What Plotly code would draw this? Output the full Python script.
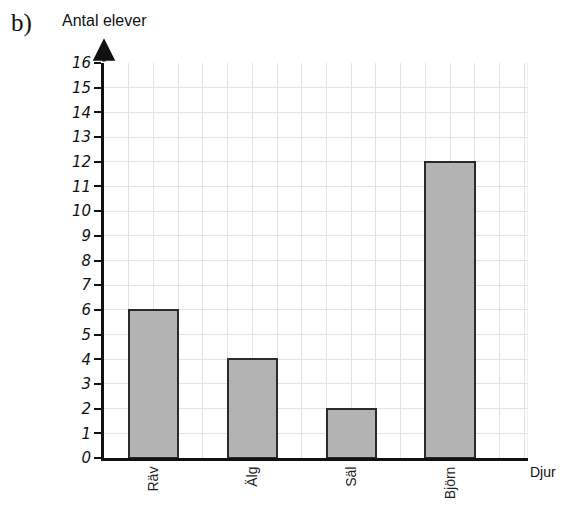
import plotly.graph_objects as go

categories = ["Räv", "Älg", "Säl", "Björn"]
values = [6, 4, 2, 12]
positions = [2, 6, 10, 14]
y_ticks = list(range(0, 17))

# page body has an 8px default margin; size figure to fit the 569x506 window
W, H = 553, 490
L, R, T, B = 96, 33, 55, 40
PW, PH = W - L - R, H - T - B


def px(xr):
    return (xr - 8 - L) / PW


def py(yr):
    return (H - B - (yr - 8)) / PH


fig = go.Figure()
fig.add_trace(go.Bar(
    x=positions, y=values, width=2,
    marker=dict(color="#b3b3b3", line=dict(color="#2a2a2a", width=2)),
    hoverinfo="skip",
))

fig.update_layout(
    width=W, height=H,
    margin=dict(l=L, r=R, t=T, b=B, autoexpand=False),
    paper_bgcolor="white", plot_bgcolor="white",
    showlegend=False,
    font=dict(family="Liberation Sans, Arial", color="#222"),
    xaxis=dict(
        range=[0, 17.15], tickvals=positions, ticktext=categories,
        tickangle=-90, tickfont=dict(size=14, color="#222"),
        showgrid=False, zeroline=False,
        showline=True, linecolor="#111", linewidth=3,
        ticks="", fixedrange=True, automargin=False,
        minor=dict(dtick=1, tick0=0, showgrid=True, gridcolor="#e2e2e2", gridwidth=1),
    ),
    yaxis=dict(
        range=[0, 16], tickvals=y_ticks, ticktext=[str(v) for v in y_ticks],
        tickfont=dict(size=15, family="DejaVu Sans", style="italic", color="#111"),
        showgrid=True, gridcolor="#e2e2e2", gridwidth=1,
        zeroline=False, showline=True, linecolor="#111", linewidth=3,
        ticks="outside", ticklen=7, tickwidth=1.5, tickcolor="#111",
        fixedrange=True, automargin=False,
    ),
    bargap=0,
)

# right edge grid line
fig.add_shape(type="line", xref="x", yref="y", x0=17.15, x1=17.15, y0=0, y1=16,
              line=dict(color="#e2e2e2", width=1), layer="below")

# arrow on y axis
fig.add_annotation(x=0, y=17.0, ax=0, ay=16, xref="x", yref="y", axref="x", ayref="y",
                   showarrow=True, arrowhead=2, arrowsize=1.5, arrowwidth=3,
                   arrowcolor="#111", text="")

fig.add_annotation(text="b)", xref="paper", yref="paper",
                   x=px(9), y=py(23),
                   xanchor="left", yanchor="middle", showarrow=False,
                   font=dict(family="Liberation Serif", size=25, color="#111"))
fig.add_annotation(text="Antal elever", xref="paper", yref="paper",
                   x=px(60), y=py(20),
                   xanchor="left", yanchor="middle", showarrow=False,
                   font=dict(family="Liberation Sans", size=16, color="#111"))
fig.add_annotation(text="Djur", xref="paper", yref="paper",
                   x=px(528), y=py(472),
                   xanchor="left", yanchor="middle", showarrow=False,
                   font=dict(family="Liberation Sans", size=14, color="#111"))

fig.write_html("out.html")
